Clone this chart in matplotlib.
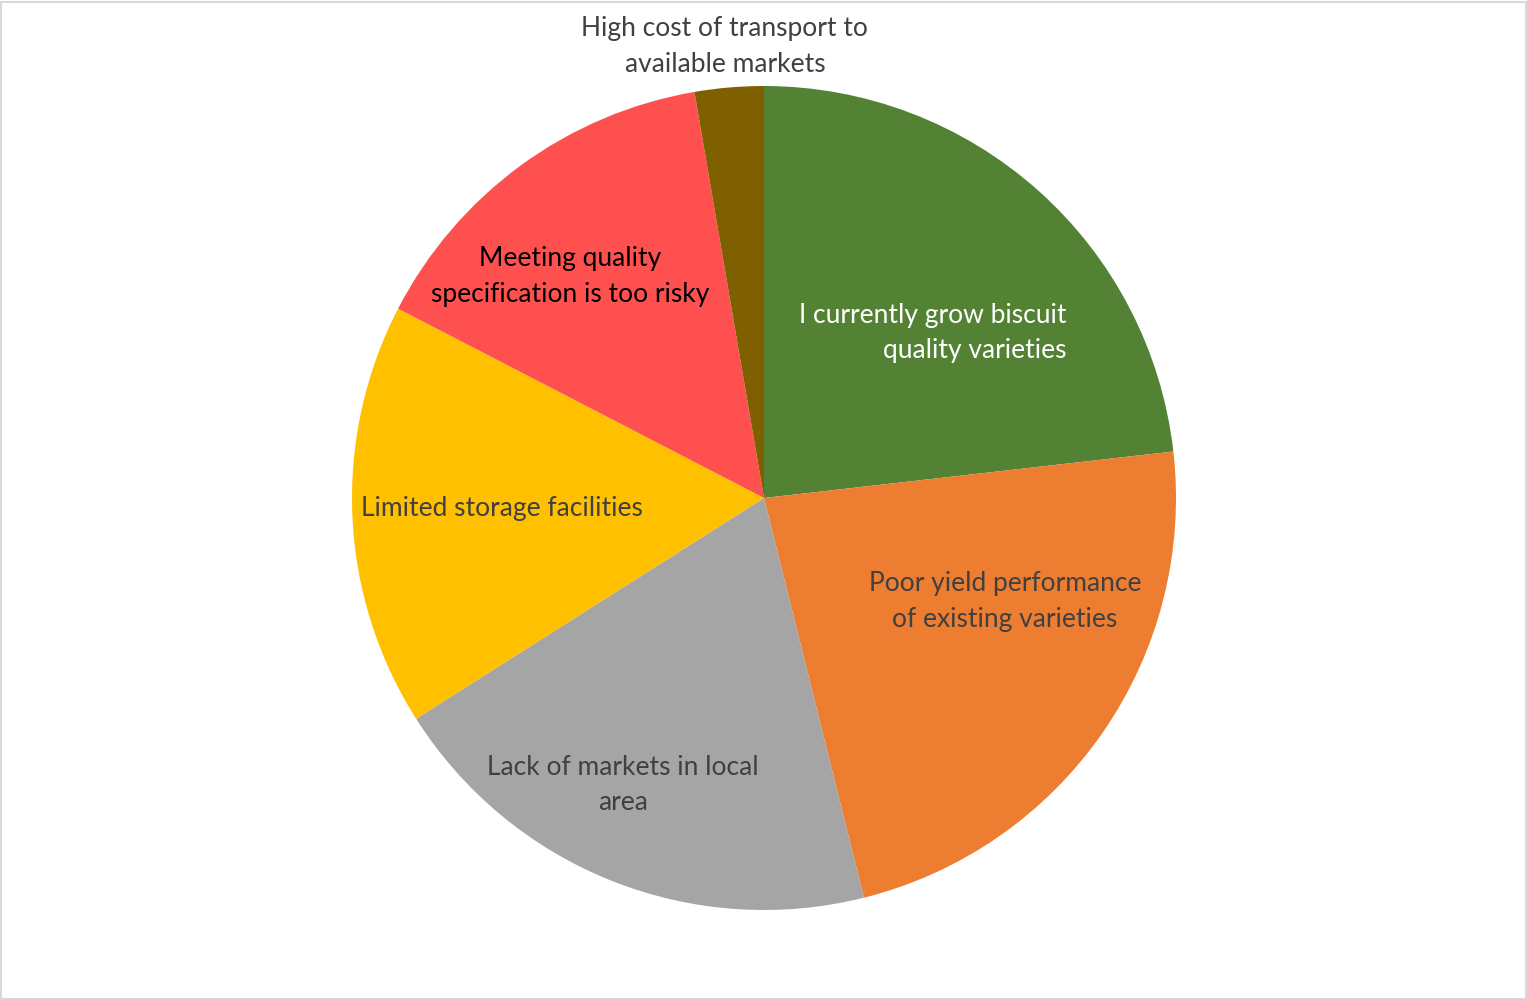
import matplotlib
matplotlib.use("Agg")
import matplotlib.pyplot as plt
from matplotlib.patches import Rectangle

categories = [
    "I currently grow biscuit\nquality varieties",
    "Poor yield performance\nof existing varieties",
    "Lack of markets in local\narea",
    "Limited storage facilities",
    "Meeting quality\nspecification is too risky",
    "High cost of transport to\navailable markets",
]
values = [23.2, 22.9, 19.9, 16.6, 14.7, 2.7]
colors = ["#548235", "#ED7D31", "#A5A5A5", "#FFC000", "#FF5050", "#7F6000"]
label_colors = ["#FFFFFF", "#404040", "#404040", "#404040", "#000000", "#404040"]
label_pos = [(0.735, 0.400), (0.585, -0.251), (-0.342, -0.697),
             (-0.636, -0.026), (-0.471, 0.538), (-0.095, 1.096)]
label_ha = ["right", "center", "center", "center", "center", "center"]

W, H = 1527, 999
fig = plt.figure(figsize=(W / 100, H / 100), dpi=100)
ax = fig.add_axes([0, 0, 1, 1])
ax.pie(values, colors=colors, startangle=90, counterclock=False, radius=1.0,
       wedgeprops=dict(linewidth=0))
R = 412.0
cx, cy = 764.0, 498.0
ax.set_aspect("auto")
ax.set_xlim(-cx / R, (W - cx) / R)
ax.set_ylim(-(H - cy) / R, cy / R)
ax.axis("off")

for lab, (x, y), c, ha in zip(categories, label_pos, label_colors, label_ha):
    ax.text(x, y, lab, color=c, ha=ha, va="center", multialignment=ha,
            fontsize=19, family=["Lato", "DejaVu Sans"], linespacing=1.52)

fig.patches.append(Rectangle((0.5 / W, 0.5 / H), 1 - 2 / W, 1 - 2 / H,
                             transform=fig.transFigure, fill=False,
                             edgecolor="#D9D9D9", linewidth=1.5))
fig.savefig("out.png", dpi=100, facecolor="white")
